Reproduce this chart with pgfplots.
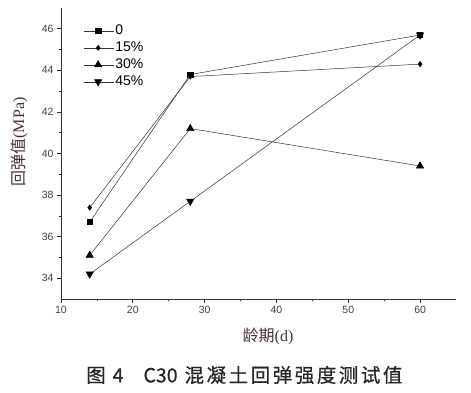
\documentclass[border=0pt]{standalone}
\usepackage{fontspec}
\setmainfont{Liberation Sans}
\newfontfamily\cjk{Noto Sans CJK SC}
\newfontfamily\cjkcap[LetterSpace=13, FakeBold=0.6]{Noto Sans CJK SC}
\newfontfamily\latcap[FakeBold=0.6]{Noto Sans CJK SC}
\newfontfamily\serifl{Liberation Serif}
\usepackage{pgfplots}
\pgfplotsset{compat=1.18}
\definecolor{lab}{HTML}{4A3232}
\begin{document}
\begin{tikzpicture}[x=1pt,y=1pt]
\useasboundingbox (0,0) rectangle (471,393);
\begin{axis}[
  at={(61pt,94pt)}, anchor=south west,
  scale only axis, width=395pt, height=291pt,
  xmin=10, xmax=65, ymin=33, ymax=47,
  axis x line*=bottom, axis y line*=left,
  axis line style={black!80, line width=0.8pt},
  xtick={10,20,30,40,50,60}, ytick={34,36,38,40,42,44,46},
  minor x tick num=1, minor y tick num=1,
  tick align=outside, major tick length=4pt, minor tick length=2.5pt,
  tick style={black!80, line width=0.7pt},
  ticklabel style={font=\fontsize{10.5}{12}\selectfont, text=black!75},
  /pgf/number format/assume math mode=true,
  legend style={draw=none, fill=none, at={(0.055,0.955)}, anchor=north west,
    font=\fontsize{14}{17}\selectfont, row sep=0pt, inner sep=1pt,
    nodes={inner sep=1pt, text height=11pt, text depth=4pt}},
  legend cell align=left,
  legend image code/.code={
    \draw[#1, mark=none] (0pt,0pt) -- (30pt,0pt);
    \path[#1] plot coordinates {(14pt,0pt)};
  },
]
\addplot[black!80, line width=0.5pt, mark=square*, mark size=2.6pt, mark options={solid, fill=black, draw=black}] coordinates {(14,36.7) (28,43.8) (60,45.7)};
\addlegendentry{0}
\addplot[black!80, line width=0.5pt, mark=diamond*, mark size=2.6pt, mark options={solid, fill=black, draw=black}] coordinates {(14,37.4) (28,43.7) (60,44.3)};
\addlegendentry{15\%}
\addplot[black!80, line width=0.5pt, mark=triangle*, mark size=4.2pt, mark options={solid, fill=black, draw=black}] coordinates {(14,35.1) (28,41.2) (60,39.4)};
\addlegendentry{30\%}
\addplot[black!80, line width=0.5pt, mark=triangle*, mark size=4.2pt, mark options={solid, fill=black, draw=black, rotate=180}] coordinates {(14,34.2) (28,37.7) (60,45.7)};
\addlegendentry{45\%}
\end{axis}
\node[rotate=90, text=lab, font=\fontsize{16}{18}\selectfont] at (19,251) {{\cjk 回弹值}{\serifl (MPa)}};
\node[text=lab, font=\fontsize{16}{18}\selectfont] at (268,57) {{\cjk 龄期}{\serifl (d)}};
\node[text=black!85, anchor=west, inner sep=0pt, font=\fontsize{19.5}{21}\selectfont] at (86,18) {{\latcap 图}\hspace{7pt}{\latcap 4}\hspace{20pt}{\latcap C30}\hspace{7pt}{\cjkcap 混凝土回弹强度测试值}};
\end{tikzpicture}
\end{document}
